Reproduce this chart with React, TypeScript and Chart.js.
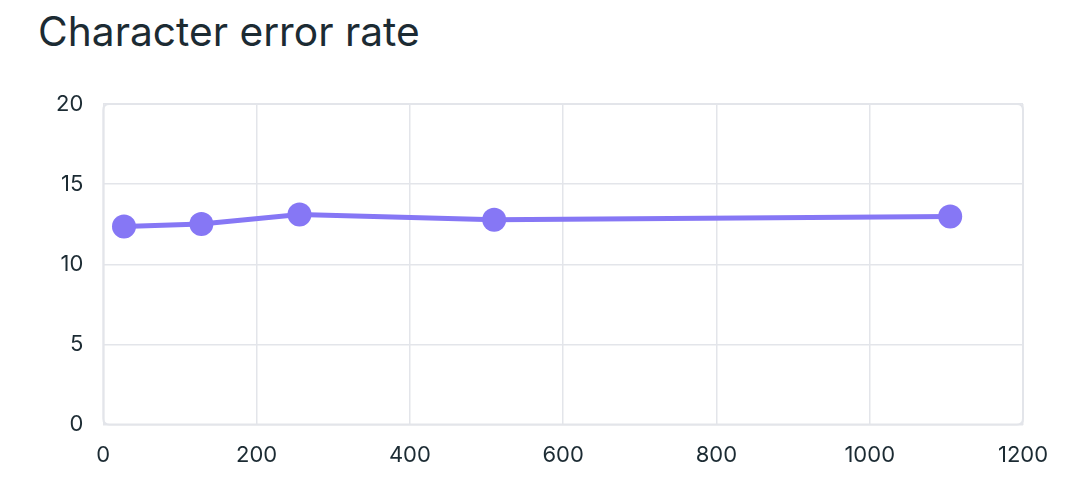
import React, { useEffect, useRef } from "react";
import { Chart, registerables } from "chart.js";

Chart.register(...registerables);

const TITLE = "Character error rate";
const xValues = [27, 128, 256, 510, 1105];
const cerValues = [12.36, 12.51, 13.1, 12.78, 12.98];
const X_MIN = 0;
const X_MAX = 1200;
const X_STEP = 200;
const Y_MIN = 0;
const Y_MAX = 20;
const Y_STEP = 5;

const TEXT = "#1c2b33";
const GRID = "#e3e5ea";
const LINE = "#8677f5";
const FONT = "Inter, 'Noto Sans', sans-serif";

const roundedBorder = {
  id: "roundedBorder",
  afterDraw(chart: any) {
    const { ctx, chartArea } = chart;
    const { left, top, right, bottom } = chartArea;
    const r = 6;
    ctx.save();
    ctx.strokeStyle = GRID;
    ctx.lineWidth = 2;
    ctx.beginPath();
    ctx.moveTo(left + r, top);
    ctx.lineTo(right - r, top);
    ctx.quadraticCurveTo(right, top, right, top + r);
    ctx.lineTo(right, bottom - r);
    ctx.quadraticCurveTo(right, bottom, right - r, bottom);
    ctx.lineTo(left + r, bottom);
    ctx.quadraticCurveTo(left, bottom, left, bottom - r);
    ctx.lineTo(left, top + r);
    ctx.quadraticCurveTo(left, top, left + r, top);
    ctx.stroke();
    ctx.restore();
  },
};

export default function App() {
  const ref = useRef<HTMLCanvasElement | null>(null);

  useEffect(() => {
    if (!ref.current) return;
    const chart = new Chart(ref.current, {
      type: "line",
      data: {
        datasets: [
          {
            label: TITLE,
            data: xValues.map((x, i) => ({ x, y: cerValues[i] })),
            borderColor: LINE,
            backgroundColor: LINE,
            borderWidth: 5,
            pointRadius: 12,
            pointHoverRadius: 12,
            pointBorderWidth: 0,
            tension: 0,
          },
        ],
      },
      options: {
        animation: false,
        responsive: false,
        maintainAspectRatio: false,
        layout: { padding: { left: 36, right: 57, top: 104, bottom: 3 } },
        plugins: {
          legend: { display: false },
          tooltip: { enabled: false },
          title: { display: false },
        },
        scales: {
          x: {
            type: "linear",
            min: X_MIN,
            max: X_MAX,
            ticks: {
              stepSize: X_STEP,
              color: TEXT,
              font: { family: FONT, size: 22 },
              padding: 18,
              maxRotation: 0,
              callback: (v: any) => String(v),
            },
            grid: { color: GRID, lineWidth: 1.5, drawTicks: false },
            border: { display: false },
          },
          y: {
            min: Y_MIN,
            max: Y_MAX,
            ticks: {
              stepSize: Y_STEP,
              color: TEXT,
              font: { family: FONT, size: 22 },
              padding: 20,
              callback: (v: any) => String(v),
            },
            grid: { color: GRID, lineWidth: 1.5, drawTicks: false },
            border: { display: false },
          },
        },
      },
      plugins: [roundedBorder],
    });
    return () => chart.destroy();
  }, []);

  return (
    <div
      style={{
        position: "fixed",
        left: 0,
        top: 0,
        width: 1080,
        height: 490,
        background: "#ffffff",
      }}
    >
      <div
        style={{
          position: "absolute",
          left: 38,
          top: 7,
          fontFamily: FONT,
          fontSize: 40.7,
          color: TEXT,
          fontWeight: 400,
          whiteSpace: "nowrap",
        }}
      >
        {TITLE}
      </div>
      <canvas
        ref={ref}
        width={1080}
        height={490}
        style={{ position: "absolute", left: 0, top: 0, width: 1080, height: 490 }}
      />
    </div>
  );
}
